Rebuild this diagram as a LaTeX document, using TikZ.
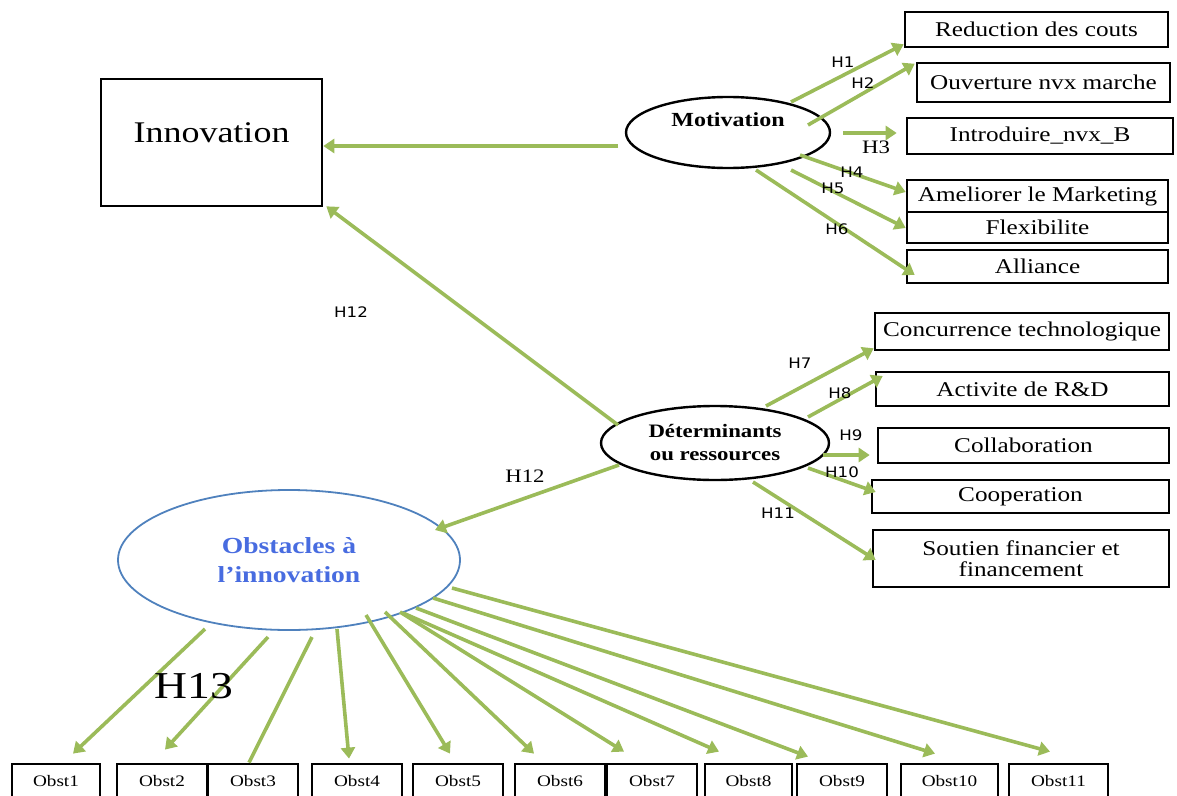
\documentclass[tikz,border=0pt]{standalone}
\usepackage{fontspec}
\usetikzlibrary{arrows.meta,calc,shapes.geometric}
\newfontfamily\boxfont{Liberation Serif}[FakeStretch=1.2]
\newfontfamily\hfont{DejaVu Sans}[FakeStretch=1.15]
\definecolor{pathgreen}{RGB}{155,187,89}
\definecolor{obsblue}{RGB}{79,129,189}
\definecolor{obstext}{RGB}{72,108,224}

\begin{document}
\begin{tikzpicture}[x=1pt,y=-1pt,
  rbox/.style={draw=black, line width=2.6pt, inner sep=0pt, align=center,
    font=\boxfont\fontsize{21}{21}\selectfont},
  obox/.style={draw=black, line width=2.8pt, inner sep=0pt, minimum height=34pt,
    font=\boxfont\fontsize{16}{18}\selectfont},
  oval/.style={ellipse, draw=black, line width=2.4pt, inner sep=0pt, align=center},
  link/.style={draw=pathgreen, line width=3.6pt, -{Triangle[length=11pt,width=14pt]}},
  plainlink/.style={draw=pathgreen, line width=3.6pt},
  hsans/.style={font=\hfont\fontsize{14.5}{16}\selectfont, inner sep=0pt},
  hserif/.style={font=\boxfont\fontsize{19}{21}\selectfont, inner sep=0pt},
]
\useasboundingbox (0,0) rectangle (1177,795);
\clip (0,0) rectangle (1177,795);

% central construct
\node[rbox, minimum width=221pt, minimum height=127pt,
  font=\boxfont\fontsize{30}{32}\selectfont] (inno) at (211.5,142.5)
  {\raisebox{0pt}[0pt][0pt]{Innovation}};

% latent variables
\node[oval, minimum width=204pt, minimum height=71pt,
  font=\boxfont\bfseries\fontsize{20}{22}\selectfont] (mot) at (728,132.5)
  {\raisebox{6pt}[0pt][0pt]{Motivation}};
\node[oval, minimum width=228pt, minimum height=74pt,
  font=\boxfont\bfseries\fontsize{19}{23}\selectfont] (det) at (715,443)
  {Déterminants\\ou ressources};
\node[ellipse, draw=obsblue, line width=1.8pt, inner sep=0pt, align=center,
  minimum width=342pt, minimum height=140pt, text=obstext,
  font=\boxfont\bfseries\fontsize{23}{29}\selectfont] (obs) at (289,560)
  {Obstacles à\\l’innovation};

% motivation indicators
\node[rbox, minimum width=263pt, minimum height=35pt] (b1) at (1036.5,29.5) {Reduction des couts};
\node[rbox, minimum width=253pt, minimum height=39pt] (b2) at (1043.5,82.5) {Ouverture nvx marche};
\node[rbox, minimum width=266pt, minimum height=36pt] (b3) at (1040,136) {Introduire\_nvx\_B};
\node[rbox, minimum width=261pt, minimum height=32pt] (b4) at (1037.5,196) {Ameliorer le Marketing};
\node[rbox, minimum width=261pt, minimum height=31pt] (b5) at (1037.5,227.5) {Flexibilite};
\node[rbox, minimum width=261pt, minimum height=33pt] (b6) at (1037.5,266.5) {Alliance};

% determinant indicators
\node[rbox, minimum width=294pt, minimum height=37pt] (b7) at (1022,331.5) {Concurrence technologique};
\node[rbox, minimum width=293pt, minimum height=34pt] (b8) at (1022.5,389) {Activite de R\&D};
\node[rbox, minimum width=291pt, minimum height=35pt] (b9) at (1023.5,445.5) {Collaboration};
\node[rbox, minimum width=297pt, minimum height=33pt] (b10) at (1020.5,496.5) {Cooperation};
\node[rbox, minimum width=296pt, minimum height=57pt] (b11) at (1021,558.5) {Soutien financier et\\financement};

% obstacle indicators
\node[obox, minimum width=88pt] (o1) at (56,781) {Obst1};
\node[obox, minimum width=90pt] (o2) at (162,781) {Obst2};
\node[obox, minimum width=90pt] (o3) at (253,781) {Obst3};
\node[obox, minimum width=90pt] (o4) at (357,781) {Obst4};
\node[obox, minimum width=90pt] (o5) at (458,781) {Obst5};
\node[obox, minimum width=90pt] (o6) at (560,781) {Obst6};
\node[obox, minimum width=90pt] (o7) at (652,781) {Obst7};
\node[obox, minimum width=87pt] (o8) at (748.5,781) {Obst8};
\node[obox, minimum width=90pt] (o9) at (842,781) {Obst9};
\node[obox, minimum width=97pt] (o10) at (949.5,781) {Obst10};
\node[obox, minimum width=99pt] (o11) at (1058.5,781) {Obst11};

% paths to Innovation and Obstacles
\draw[link] ($(mot.center)+(-110,13.5)$) -- ($(inno.east)+(0,3.5)$);
\draw[link] ($(det.center)+(-97,-18)$) -- ($(inno.south east)+(3,-1)$);
\draw[link] ($(det.center)+(-96,22)$) -- ($(obs.center)+(146,-30)$);

% motivation paths
\draw[link] ($(mot.center)+(63,-30.5)$) -- ($(b1.south west)+(0,-4)$);
\draw[link] ($(mot.center)+(80,-7.5)$) -- ($(b2.north west)+(-1,2)$);
\draw[link] ($(mot.center)+(115,0.5)$) -- ($(b3.west)+(-9,-3)$);
\draw[link] ($(mot.center)+(72,22.5)$) -- ($(b4.west)+(0,-4)$);
\draw[link] ($(mot.center)+(63,37.5)$) -- ($(b5.west)+(0,0.5)$);
\draw[link] ($(mot.center)+(28,37.5)$) -- ($(b6.west)+(9,8.5)$);

% determinant paths
\draw[link] ($(det.center)+(51,-37)$) -- ($(b7.south west)+(0,-3)$);
\draw[link] ($(det.center)+(93,-26)$) -- ($(b8.west)+(8,-13)$);
\draw[link] ($(det.center)+(108,12)$) -- ($(b9.west)+(-7,9.5)$);
\draw[link] ($(det.center)+(93,25)$) -- ($(b10.west)+(5,-4.5)$);
\draw[link] ($(det.center)+(38,39)$) -- ($(b11.west)+(4,1.5)$);

% obstacle paths
\draw[link] ($(obs.center)+(-84,69)$) -- ($(o1.north)+(17,-9)$);
\draw[link] ($(obs.center)+(-21,77)$) -- ($(o2.north)+(3,-13)$);
\draw[plainlink] ($(obs.center)+(23,77)$) -- ($(o3.north)+(-4,0)$);
\draw[link] ($(obs.center)+(48,69)$) -- ($(o4.north)+(-8,-4)$);
\draw[link] ($(obs.center)+(77,55)$) -- ($(o5.north)+(-8,-9)$);
\draw[link] ($(obs.center)+(96,52)$) -- ($(o6.north)+(-26,-9)$);
\draw[link] ($(obs.center)+(111,52)$) -- ($(o7.north)+(-28,-11)$);
\draw[link] ($(obs.center)+(114,53)$) -- ($(o8.north)+(-29.5,-11)$);
\draw[link] ($(obs.center)+(127,48)$) -- ($(o9.north)+(-34,-6)$);
\draw[link] ($(obs.center)+(144,38)$) -- ($(o10.north)+(-14.5,-9)$);
\draw[link] ($(obs.center)+(163,28)$) -- ($(o11.north)+(-8.5,-11)$);

% hypothesis labels
\node[hsans] (lh1) at (843,62) {H1};
\node[hsans] (lh2) at (863,83) {H2};
\node[hserif] (lh3) at (876,147) {H3};
\node[hsans] (lh4) at (852,172) {H4};
\node[hsans] (lh5) at (833,188) {H5};
\node[hsans] (lh6) at (837,229) {H6};
\node[hsans] (lh7) at (800,363) {H7};
\node[hsans] (lh8) at (840,393) {H8};
\node[hsans] (lh9) at (851,435) {H9};
\node[hsans] (lh10) at (842,472) {H10};
\node[hsans] (lh11) at (778,513) {H11};
\node[hsans] (lh12a) at (351,312) {H12};
\node[hserif] (lh12b) at (525,476) {H12};
\node[font=\boxfont\fontsize{38}{40}\selectfont, inner sep=0pt] (lh13) at (194,686) {H13};
\end{tikzpicture}
\end{document}
